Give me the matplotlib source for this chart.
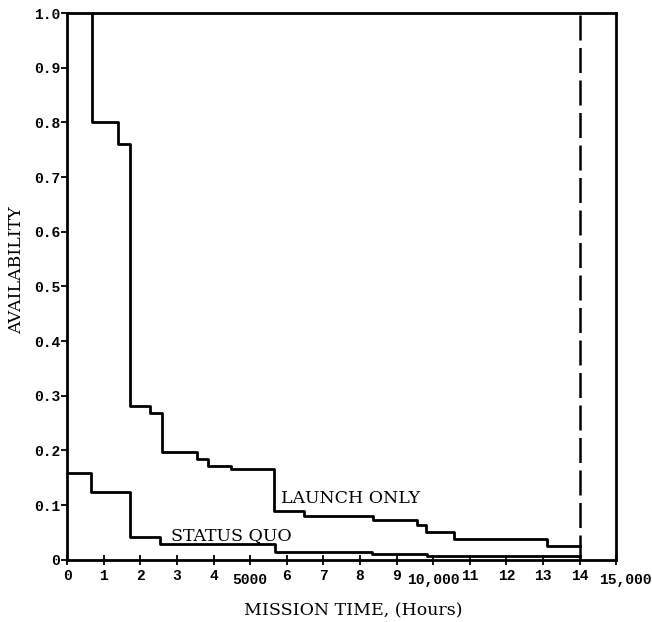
import matplotlib
matplotlib.use("Agg")
import matplotlib.pyplot as plt
import matplotlib.transforms as mtransforms

# Data (x in thousands of hours)
launch_x = [0.67, 0.67, 1.40, 1.72, 2.25, 2.59, 3.54, 3.84, 4.47, 5.66, 6.48, 8.35, 9.55, 9.81, 10.56, 13.1, 14.0]
launch_y = [1.00, 0.80, 0.76, 0.281, 0.268, 0.197, 0.185, 0.172, 0.166, 0.089, 0.080, 0.072, 0.063, 0.050, 0.038, 0.025, 0.025]
status_x = [0.0, 0.66, 1.72, 2.54, 5.68, 8.33, 9.82, 14.0]
status_y = [0.158, 0.124, 0.041, 0.028, 0.014, 0.011, 0.007, 0.007]
mission_end = 14.0
month_ticks = [0, 1, 2, 3, 4, 6, 7, 8, 9, 11, 12, 13, 14]
hour_ticks = [5, 10, 15]
hour_labels = ["5000", "10,000", "15,000"]
y_ticks = [0, 0.1, 0.2, 0.3, 0.4, 0.5, 0.6, 0.7, 0.8, 0.9, 1.0]
y_labels = ["0", "0.1", "0.2", "0.3", "0.4", "0.5", "0.6", "0.7", "0.8", "0.9", "1.0"]

fig = plt.figure(figsize=(6.52, 6.22), dpi=100)
ax = fig.add_axes([0.103, 0.100, 0.842, 0.879])
ax.set_xlim(0, 15)
ax.set_ylim(0, 1.0)

ax.step(launch_x, launch_y, where="post", color="black", lw=2.0)
ax.step(status_x, status_y, where="post", color="black", lw=2.0)
ax.axvline(mission_end, color="black", lw=1.8, linestyle=(0, (10, 3)))

for s in ax.spines.values():
    s.set_linewidth(2.0)

tickfont = dict(family="Liberation Mono", weight="bold", size=10.5)
ax.set_yticks(y_ticks)
ax.set_yticklabels(y_labels, **tickfont)
ax.tick_params(axis="y", direction="out", length=4, width=1.3, pad=1)

ax.set_xticks(month_ticks + hour_ticks)
ax.set_xticklabels([str(m) for m in month_ticks] + [""] * len(hour_ticks), **tickfont)
ax.tick_params(axis="x", direction="inout", length=7, width=1.3, pad=3)
ax.set_xticks(hour_ticks, minor=True)
ax.tick_params(axis="x", which="minor", direction="inout", length=16, width=1.5)

trans = mtransforms.blended_transform_factory(ax.transData, ax.transAxes)
hour_offsets = [0.0, 0.0, 0.25]
for t, lab, off in zip(hour_ticks, hour_labels, hour_offsets):
    ax.text(t + off, -0.037, lab, transform=trans, ha="center", va="center", **tickfont)

serif = dict(family="DejaVu Serif", size=12.5)
ax.set_xlabel("MISSION TIME, (Hours)", labelpad=0, **serif)
ax.xaxis.set_label_coords(0.521, -0.077)
ax.set_ylabel("AVAILABILITY", **serif)
ax.yaxis.set_label_coords(-0.077, 0.53)

ax.text(5.85, 0.112, "LAUNCH ONLY", va="center", **serif)
ax.text(2.85, 0.045, "STATUS QUO", va="center", **serif)

fig.savefig("out.png", dpi=100)
